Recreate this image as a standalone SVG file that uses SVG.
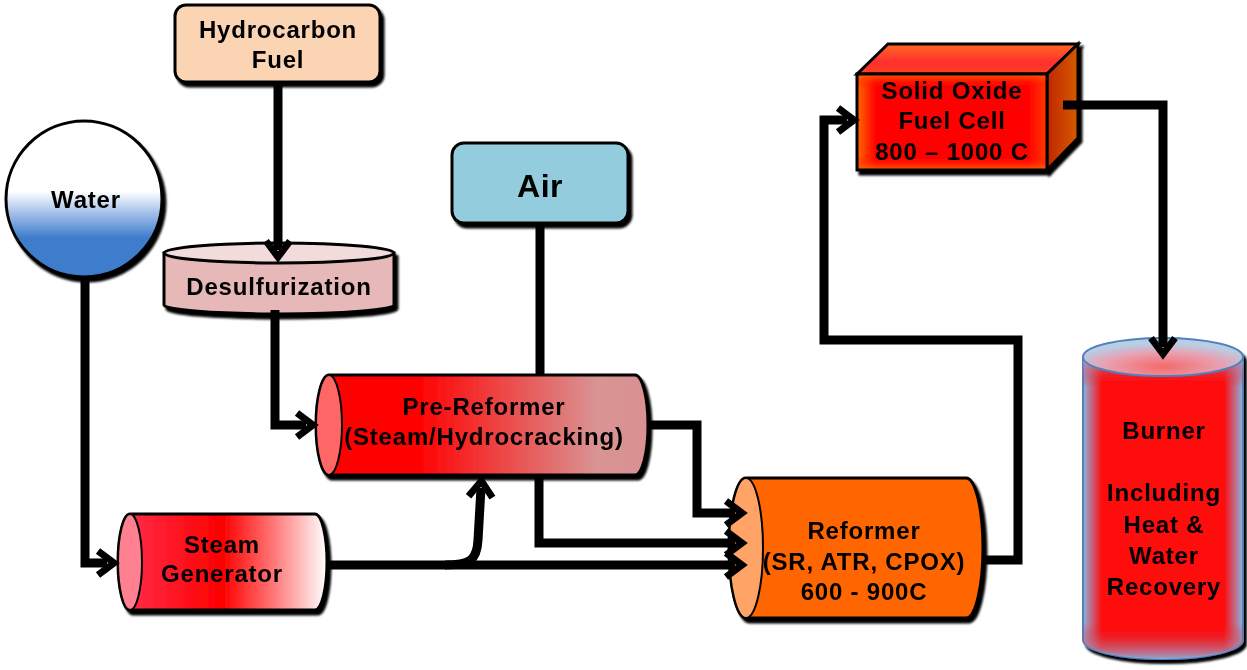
<svg xmlns="http://www.w3.org/2000/svg" width="1247" height="670" viewBox="0 0 1247 670">
<style>
text{font-family:"Liberation Sans",Arial,sans-serif;font-weight:bold;font-size:24px;letter-spacing:0.8px;text-anchor:middle;fill:#000}
.blk{stroke:#000;stroke-width:3}
.conn{fill:none;stroke:#000;stroke-width:9;stroke-linejoin:miter}
</style>
<defs>
<filter id="sh" x="-10%" y="-10%" width="125%" height="125%">
<feOffset in="SourceAlpha" dx="3" dy="4" result="o"/>
<feGaussianBlur in="o" stdDeviation="0.8" result="b"/>
<feMerge><feMergeNode in="b"/><feMergeNode in="SourceGraphic"/></feMerge>
</filter>
<marker id="ah" markerUnits="userSpaceOnUse" viewBox="0 0 28 32" markerWidth="28" markerHeight="32" refX="12" refY="16" orient="auto">
<path d="M3,4 L19,16 L3,28" fill="none" stroke="#000" stroke-width="7" stroke-linejoin="miter" stroke-miterlimit="4"/>
</marker>
<linearGradient id="gWater" x1="0" y1="0" x2="0" y2="1">
<stop offset="0" stop-color="#fff"/><stop offset="0.45" stop-color="#fff"/><stop offset="0.6" stop-color="#9dbbe6"/><stop offset="0.75" stop-color="#3d7dcb"/><stop offset="1" stop-color="#3d7dcb"/>
</linearGradient>
<linearGradient id="gPre" x1="0" y1="0" x2="1" y2="0">
<stop offset="0" stop-color="#ff0000"/><stop offset="0.3" stop-color="#ff0000"/><stop offset="0.55" stop-color="#ee4444"/><stop offset="0.85" stop-color="#d99494"/><stop offset="1" stop-color="#d99090"/>
</linearGradient>
<linearGradient id="gSteam" x1="0" y1="0" x2="1" y2="0">
<stop offset="0" stop-color="#ff3050"/><stop offset="0.5" stop-color="#ff0000"/><stop offset="0.75" stop-color="#ff7a7a"/><stop offset="1" stop-color="#ffffff"/>
</linearGradient>
<linearGradient id="gFrontH" x1="0" y1="0" x2="1" y2="0">
<stop offset="0" stop-color="#ff6a00"/><stop offset="0.1" stop-color="#ff0000"/><stop offset="0.9" stop-color="#ff0000"/><stop offset="1" stop-color="#ff3a00"/>
</linearGradient>
<linearGradient id="gFrontV" x1="0" y1="0" x2="0" y2="1">
<stop offset="0" stop-color="#ff6a00" stop-opacity="0.9"/><stop offset="0.15" stop-color="#ff0000" stop-opacity="0"/><stop offset="0.85" stop-color="#ff0000" stop-opacity="0"/><stop offset="1" stop-color="#ff6a00" stop-opacity="0.9"/>
</linearGradient>
<linearGradient id="gTop" x1="0" y1="0" x2="0" y2="1">
<stop offset="0" stop-color="#ff6a20"/><stop offset="0.6" stop-color="#ff3030"/><stop offset="1" stop-color="#ff4020"/>
</linearGradient>
<linearGradient id="gSide" x1="0" y1="0" x2="1" y2="0">
<stop offset="0" stop-color="#c02800"/><stop offset="1" stop-color="#d45a00"/>
</linearGradient>
<linearGradient id="gBurnH" x1="0" y1="0" x2="1" y2="0">
<stop offset="0" stop-color="#8db4e2"/><stop offset="0.12" stop-color="#ff0a0a"/><stop offset="0.88" stop-color="#ff0a0a"/><stop offset="1" stop-color="#8db4e2"/>
</linearGradient>
<linearGradient id="gBurnV" x1="0" y1="0" x2="0" y2="1">
<stop offset="0" stop-color="#8db4e2" stop-opacity="0.9"/><stop offset="0.1" stop-color="#ff0000" stop-opacity="0"/><stop offset="0.88" stop-color="#ff0000" stop-opacity="0"/><stop offset="1" stop-color="#8db4e2" stop-opacity="0.9"/>
</linearGradient>
<radialGradient id="gBurnTop" cx="0.5" cy="0.75" r="0.6">
<stop offset="0" stop-color="#f46a6a"/><stop offset="0.6" stop-color="#e8a0b0"/><stop offset="1" stop-color="#b9cde5"/>
</radialGradient>
</defs>

<g id="hydrocarbon-fuel" filter="url(#sh)">
<rect x="175" y="5" width="205" height="77" rx="11" fill="#fbd4b4" class="blk"/>
<text x="278" y="38">Hydrocarbon</text>
<text x="278" y="68">Fuel</text>
</g>

<g id="water" filter="url(#sh)">
<circle cx="84" cy="199" r="78" fill="url(#gWater)" class="blk"/>
<text x="86" y="208">Water</text>
</g>

<g id="desulfurization" filter="url(#sh)">
<path d="M164,253 L164,305 A115,9 0 0 0 394,305 L394,253 Z" fill="#e6b8b7" class="blk"/>
<ellipse cx="279" cy="253" rx="115" ry="10" fill="#f2dcdb" class="blk"/>
<text x="279" y="295">Desulfurization</text>
</g>

<g id="air" filter="url(#sh)">
<rect x="452" y="143" width="176" height="80" rx="12" fill="#93cddd" class="blk"/>
<text x="540" y="197" style="font-size:32px;letter-spacing:0.5px">Air</text>
</g>

<g id="pre-reformer" filter="url(#sh)">
<path d="M329,375 L635,375 A13,50 0 0 1 635,475 L329,475 A13,50 0 0 1 329,375 Z" fill="url(#gPre)" class="blk"/>
<ellipse cx="329" cy="425" rx="13" ry="50" fill="#ff6666" stroke="#000" stroke-width="2"/>
<text x="484" y="415">Pre-Reformer</text>
<text x="484" y="445">(Steam/Hydrocracking)</text>
</g>

<g id="steam-generator" filter="url(#sh)">
<path d="M130,514 L315,514 A12,48 0 0 1 315,610 L130,610 A12,48 0 0 1 130,514 Z" fill="url(#gSteam)" class="blk"/>
<ellipse cx="130" cy="562" rx="12" ry="48" fill="#ff8090" stroke="#000" stroke-width="2"/>
<text x="222" y="553">Steam</text>
<text x="222" y="582">Generator</text>
</g>

<g id="reformer" filter="url(#sh)">
<path d="M746,478 L966,478 A17,70 0 0 1 966,618 L746,618 A17,70 0 0 1 746,478 Z" fill="#ff6600" class="blk"/>
<ellipse cx="746" cy="548" rx="17" ry="70" fill="#ffa366" stroke="#000" stroke-width="2"/>
<text x="864" y="539">Reformer</text>
<text x="864" y="570">(SR, ATR, CPOX)</text>
<text x="864" y="600">600 - 900C</text>
</g>

<g id="sofc" filter="url(#sh)">
<polygon points="857,74 888,44 1078,44 1047,74" fill="url(#gTop)" class="blk"/>
<polygon points="1047,74 1078,44 1078,138 1047,170" fill="url(#gSide)" class="blk"/>
<rect x="857" y="74" width="190" height="96" fill="url(#gFrontH)"/>
<rect x="857" y="74" width="190" height="96" fill="url(#gFrontV)" class="blk"/>
<text x="952" y="99">Solid Oxide</text>
<text x="952" y="129">Fuel Cell</text>
<text x="952" y="160">800 – 1000 C</text>
</g>

<g id="burner" filter="url(#sh)">
<path d="M1083,357 L1083,640 A80,19 0 0 0 1243,640 L1243,357 Z" fill="url(#gBurnH)" stroke="#4f81bd" stroke-width="2"/>
<path d="M1083,357 L1083,640 A80,19 0 0 0 1243,640 L1243,357 Z" fill="url(#gBurnV)"/>
<ellipse cx="1163" cy="357" rx="80" ry="19" fill="url(#gBurnTop)" stroke="#4f81bd" stroke-width="2"/>
<text x="1164" y="439">Burner</text>
<text x="1164" y="501">Including</text>
<text x="1164" y="533">Heat &amp;</text>
<text x="1164" y="564">Water</text>
<text x="1164" y="595">Recovery</text>
</g>

<g id="connectors">
<path class="conn" d="M278,83 L278,250" marker-end="url(#ah)"/>
<path class="conn" d="M85,277 L85,563 L107,563" marker-end="url(#ah)"/>
<path class="conn" d="M275,310 L275,425 L306,425" marker-end="url(#ah)"/>
<path class="conn" d="M540,223 L540,376"/>
<path class="conn" d="M327,565 L735,565" marker-end="url(#ah)"/>
<path class="conn" d="M445,565 C470,565 477,560 478,540 L481,488" marker-end="url(#ah)"/>
<path class="conn" d="M648,425 L697,425 L697,513 L735,513" marker-end="url(#ah)"/>
<path class="conn" d="M539,476 L539,543 L735,543" marker-end="url(#ah)"/>
<path class="conn" d="M983,560 L1018,560 L1018,340 L824,340 L824,120 L847,120" marker-end="url(#ah)"/>
<path class="conn" d="M1063,105 L1163,105 L1163,347" marker-end="url(#ah)"/>
</g>
</svg>
